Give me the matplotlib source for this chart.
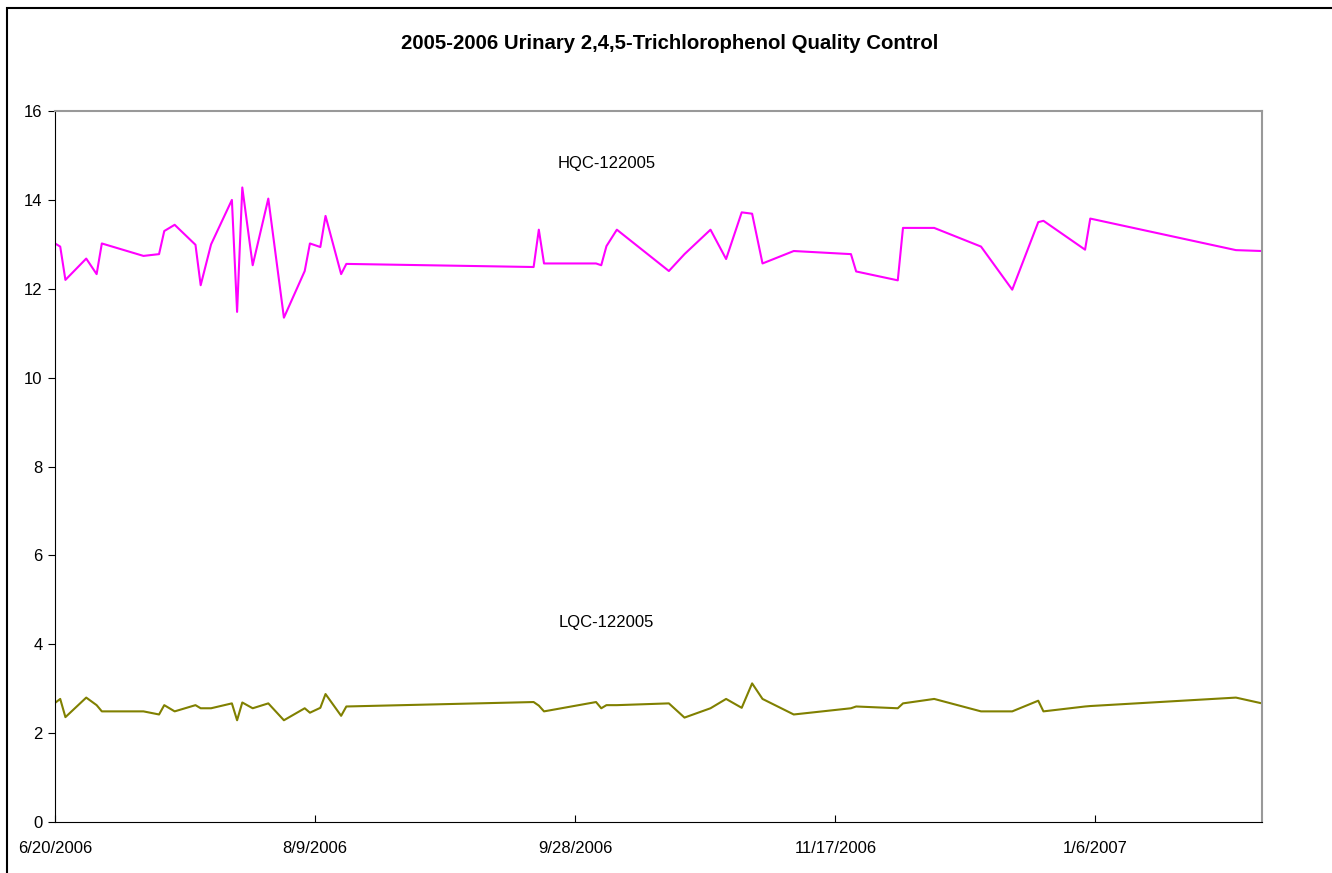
import datetime as dt
import matplotlib
matplotlib.use('Agg')
import matplotlib.pyplot as plt
from matplotlib.patches import Rectangle

plt.rcParams['font.family'] = ['Liberation Sans', 'DejaVu Sans']

# days after 6/20/2006 for each QC run
start = dt.date(2006, 6, 20)
day_offset = [0, 1, 2, 6, 8, 9, 17, 20, 21, 23, 27, 28, 30, 34, 35, 36, 38, 41, 44,
              48, 49, 51, 52, 55, 56, 92, 93, 94, 104, 105, 106, 108, 118, 121, 126,
              129, 132, 134, 136, 142, 153, 154, 162, 163, 169, 178, 184, 189, 190,
              198, 199, 227, 232]

hqc = [13.02, 12.95, 12.2, 12.68, 12.33, 13.02, 12.74, 12.78, 13.3, 13.44, 12.99, 12.08,
       13.0, 14.0, 11.48, 14.28, 12.53, 14.03, 11.35, 12.4, 13.02, 12.94, 13.64, 12.33,
       12.56, 12.49, 13.33, 12.57, 12.57, 12.53, 12.96, 13.33, 12.4, 12.78, 13.33, 12.67,
       13.72, 13.69, 12.57, 12.85, 12.78, 12.39, 12.19, 13.37, 13.37, 12.95, 11.98, 13.5,
       13.53, 12.88, 13.58, 12.87, 12.85]

lqc = [2.68, 2.77, 2.36, 2.8, 2.63, 2.49, 2.49, 2.42, 2.63, 2.49, 2.63, 2.56, 2.56, 2.67,
       2.29, 2.69, 2.56, 2.67, 2.29, 2.56, 2.46, 2.57, 2.88, 2.39, 2.6, 2.7, 2.62, 2.49,
       2.7, 2.56, 2.63, 2.63, 2.67, 2.35, 2.56, 2.77, 2.57, 3.12, 2.77, 2.42, 2.56, 2.6,
       2.56, 2.67, 2.77, 2.49, 2.49, 2.73, 2.49, 2.6, 2.61, 2.8, 2.67]

dates = [start + dt.timedelta(days=d) for d in day_offset]

fig = plt.figure(figsize=(13.32, 8.73), dpi=100)
ax = fig.add_axes([0.0413, 0.0584, 0.9061, 0.8144])

ax.plot(dates, hqc, color='#FF00FF', lw=1.5)
ax.plot(dates, lqc, color='#808000', lw=1.5)

ax.set_ylim(0, 16)
ax.set_yticks(range(0, 17, 2))
ax.set_xlim(dates[0], dates[-1])
ticks = [start + dt.timedelta(days=50 * k) for k in range(5)]
ax.set_xticks(ticks)
ax.set_xticklabels([f"{t.month}/{t.day}/{t.year}" for t in ticks])

ax.tick_params(axis='y', direction='out', length=5, labelsize=12, pad=4)
ax.tick_params(axis='x', direction='in', length=5, labelsize=12, pad=14)
for s in ['left', 'bottom']:
    ax.spines[s].set_color('black')
for s in ['top', 'right']:
    ax.spines[s].set_color('#999999')
    ax.spines[s].set_linewidth(1.5)

ax.text(start + dt.timedelta(days=106.6), 14.83, 'HQC-122005', fontsize=12,
        ha='center', va='center')
ax.text(start + dt.timedelta(days=106.6), 4.48, 'LQC-122005', fontsize=12,
        ha='center', va='center')

fig.text(0.503, 0.9507, '2005-2006 Urinary 2,4,5-Trichlorophenol Quality Control',
         fontsize=14.7, fontweight='bold', ha='center', va='center')

# outer chart frame
fig.patches.append(Rectangle((7 / 1332, -0.05), 1.2, 1 - 8 / 873 + 0.05,
                             transform=fig.transFigure, fill=False,
                             edgecolor='black', lw=1.5))

fig.savefig('out.png', dpi=100)
